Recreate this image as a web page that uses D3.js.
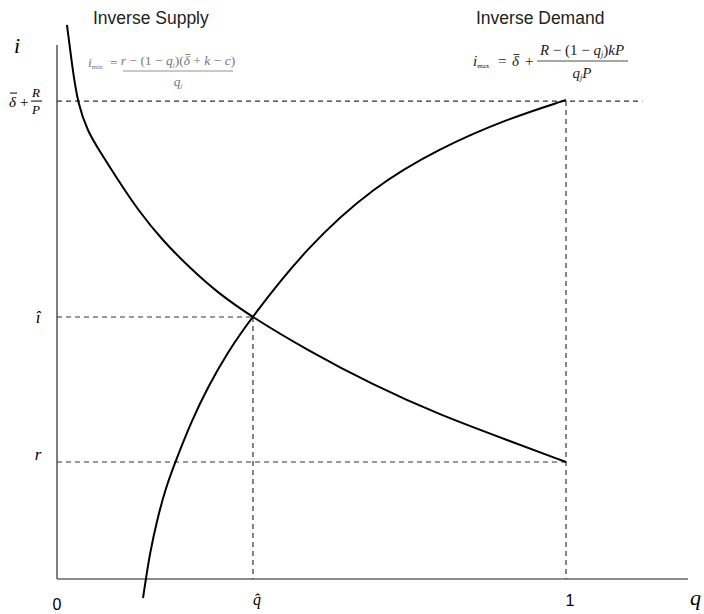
<!DOCTYPE html>
<html>
<head>
<meta charset="utf-8">
<script src="https://cdn.jsdelivr.net/npm/d3@7"></script>
<style>
  body { margin: 0; background: #fff; }
  .serif { font-family: "Liberation Serif", "Times New Roman", serif; }
  .sans { font-family: "Liberation Sans", Arial, sans-serif; }
</style>
</head>
<body>
<div id="chart"></div>
<script>
// Points: q (share) vs i (rate), arbitrary units
const supplyQ = [0.0196, 0.0295, 0.0413, 0.0609, 0.0825, 0.1198, 0.1591, 0.2063, 0.2652, 0.3163, 0.383, 0.4912, 0.6208, 0.7525, 0.8841, 1.000];
const supplyI = [1.0375, 0.9625, 0.8876, 0.8371, 0.8034, 0.7472, 0.6910, 0.6348, 0.5787, 0.5356, 0.4906, 0.4288, 0.3633, 0.3071, 0.2603, 0.2191];

const demandQ = [0.1690, 0.1749, 0.1827, 0.1965, 0.2141, 0.2338, 0.2652, 0.2967, 0.3340, 0.383, 0.4912, 0.6208, 0.7525, 0.8841, 1.000];
const demandI = [-0.0356, 0.0019, 0.0487, 0.1105, 0.1723, 0.2228, 0.2978, 0.3596, 0.4232, 0.4906, 0.6217, 0.7341, 0.8071, 0.8614, 0.8970];

// reference levels
const qHat = 0.385;
const qOne = 1.0;
const iHat = 0.4906;
const iR = 0.2191;
const iTop = 0.895;
const topLineEnd = 1.15;

const W = 704, H = 614;
const x = d3.scaleLinear().domain([0, 1]).range([57, 566]);
const y = d3.scaleLinear().domain([0, 1]).range([579, 45]);

const svg = d3.select("#chart").append("svg")
    .attr("width", W)
    .attr("height", H);

// axes (plain lines, no ticks)
svg.append("line")
    .attr("x1", x(0)).attr("x2", x(0))
    .attr("y1", y(0)).attr("y2", y(1))
    .attr("stroke", "#555").attr("stroke-width", 1.5);
svg.append("line")
    .attr("x1", x(0)).attr("x2", 688)
    .attr("y1", y(0)).attr("y2", y(0))
    .attr("stroke", "#666").attr("stroke-width", 1.5);

// dashed guides
const guides = [
    [0, iTop, topLineEnd, iTop],
    [0, iHat, qHat, iHat],
    [0, iR, qOne, iR],
    [qHat, iHat, qHat, 0],
    [qOne, iTop, qOne, 0]
];
svg.selectAll(".guide")
    .data(guides)
    .enter()
    .append("line")
    .attr("class", "guide")
    .attr("x1", d => x(d[0])).attr("y1", d => y(d[1]))
    .attr("x2", d => x(d[2])).attr("y2", d => y(d[3]))
    .attr("stroke", "#333")
    .attr("stroke-width", 1.2)
    .attr("stroke-dasharray", "5,4");

// curves - basis smooths out small reading errors
const line = d3.line()
    .x(d => x(d[0]))
    .y(d => y(d[1]))
    .curve(d3.curveBasis);

svg.append("path")
    .datum(d3.zip(supplyQ, supplyI))
    .attr("d", line)
    .attr("fill", "none")
    .attr("stroke", "#000")
    .attr("stroke-width", 2);

svg.append("path")
    .datum(d3.zip(demandQ, demandI))
    .attr("d", line)
    .attr("fill", "none")
    .attr("stroke", "#000")
    .attr("stroke-width", 2);

// titles
svg.append("text").attr("class", "sans")
    .attr("x", 93).attr("y", 24)
    .attr("font-size", 17.5).attr("fill", "#222")
    .text("Inverse Supply");
svg.append("text").attr("class", "sans")
    .attr("x", 476).attr("y", 24)
    .attr("font-size", 17.5).attr("fill", "#222")
    .text("Inverse Demand");

// axis symbols
svg.append("text").attr("class", "serif")
    .attr("x", 14).attr("y", 53)
    .attr("font-size", 22).attr("font-style", "italic")
    .text("i");
svg.append("text").attr("class", "serif")
    .attr("x", 690).attr("y", 605)
    .attr("font-size", 22).attr("font-style", "italic")
    .text("q");
svg.append("text").attr("class", "sans")
    .attr("x", x(0)).attr("y", 610)
    .attr("text-anchor", "middle")
    .attr("font-size", 16)
    .text("0");
svg.append("text").attr("class", "sans")
    .attr("x", x(qOne) + 4).attr("y", 606)
    .attr("text-anchor", "middle")
    .attr("font-size", 16)
    .text("1");
svg.append("text").attr("class", "serif")
    .attr("x", x(qHat) + 4).attr("y", 605)
    .attr("text-anchor", "middle")
    .attr("font-size", 16).attr("font-style", "italic")
    .text("q\u0302");

// y labels
svg.append("text").attr("class", "serif")
    .attr("x", 38).attr("y", y(iHat) + 6)
    .attr("text-anchor", "middle")
    .attr("font-size", 17).attr("font-style", "italic")
    .text("\u00ee");
svg.append("text").attr("class", "serif")
    .attr("x", 38).attr("y", y(iR) - 2)
    .attr("text-anchor", "middle")
    .attr("font-size", 17).attr("font-style", "italic")
    .text("r");

// delta-bar + R/P label
const topLab = svg.append("g").attr("class", "serif").attr("font-size", 15);
topLab.append("text").attr("x", 9).attr("y", y(iTop) + 6)
    .attr("font-style", "italic").text("δ");
topLab.append("line").attr("x1", 10).attr("x2", 17)
    .attr("y1", y(iTop) - 8).attr("y2", y(iTop) - 8)
    .attr("stroke", "#000").attr("stroke-width", 1);
topLab.append("text").attr("x", 20).attr("y", y(iTop) + 6).text("+");
topLab.append("text").attr("x", 36).attr("y", y(iTop) - 4)
    .attr("text-anchor", "middle").attr("font-style", "italic").attr("font-size", 13).text("R");
topLab.append("line").attr("x1", 31).attr("x2", 42)
    .attr("y1", y(iTop)).attr("y2", y(iTop))
    .attr("stroke", "#000").attr("stroke-width", 1);
topLab.append("text").attr("x", 36).attr("y", y(iTop) + 13)
    .attr("text-anchor", "middle").attr("font-style", "italic").attr("font-size", 13).text("P");

// bar over the delta glyph inside a text node
function barOverDelta(textSel, colour) {
    const node = textSel.node();
    const idx = node.textContent.indexOf("δ");
    const box = node.getExtentOfChar(idx);
    textSel.select(function() { return this.parentNode; })
        .append("line")
        .attr("x1", box.x + 1.5).attr("x2", box.x + box.width + 0.5)
        .attr("y1", box.y + 1.5).attr("y2", box.y + 1.5)
        .attr("stroke", colour).attr("stroke-width", 0.9);
}

// supply formula (grey)
const sf = svg.append("g").attr("class", "serif").attr("fill", "#777").attr("font-size", 13.5);
const sfi = sf.append("text").attr("x", 88).attr("y", 67).attr("font-style", "italic");
sfi.append("tspan").text("i");
sfi.append("tspan").attr("font-size", 7).attr("dy", 2).attr("font-style", "normal").text("min");
sf.append("text").attr("x", 110).attr("y", 67).text("=");
const sfn = sf.append("text").attr("x", 178).attr("y", 65)
    .attr("text-anchor", "middle").attr("font-style", "italic");
sfn.append("tspan").text("r");
sfn.append("tspan").attr("font-style", "normal").text(" − (1 − ");
sfn.append("tspan").text("q");
sfn.append("tspan").attr("font-size", 7).attr("dy", 2).text("j");
sfn.append("tspan").attr("dy", -2).attr("font-style", "normal").text(")(");
sfn.append("tspan").text("δ");
sfn.append("tspan").attr("font-style", "normal").text(" + ");
sfn.append("tspan").text("k");
sfn.append("tspan").attr("font-style", "normal").text(" − ");
sfn.append("tspan").text("c");
sfn.append("tspan").attr("font-style", "normal").text(")");
barOverDelta(sfn, "#777");
sf.append("line").attr("x1", 123).attr("x2", 233).attr("y1", 71).attr("y2", 71)
    .attr("stroke", "#777").attr("stroke-width", 0.8);
const sfd = sf.append("text").attr("x", 178).attr("y", 86)
    .attr("text-anchor", "middle").attr("font-style", "italic");
sfd.append("tspan").text("q");
sfd.append("tspan").attr("font-size", 7).attr("dy", 2).text("j");

// demand formula (dark)
const df = svg.append("g").attr("class", "serif").attr("fill", "#222").attr("font-size", 15);
const dfi = df.append("text").attr("x", 473).attr("y", 66).attr("font-style", "italic");
dfi.append("tspan").text("i");
dfi.append("tspan").attr("font-size", 7).attr("dy", 2).attr("font-style", "normal").text("max");
df.append("text").attr("x", 498).attr("y", 66).text("=");
const dfd0 = df.append("text").attr("x", 512).attr("y", 66).attr("font-style", "italic").text("δ");
barOverDelta(dfd0, "#222");
df.append("text").attr("x", 525).attr("y", 66).text("+");
const dfn = df.append("text").attr("x", 582).attr("y", 55)
    .attr("text-anchor", "middle").attr("font-style", "italic");
dfn.append("tspan").text("R");
dfn.append("tspan").attr("font-style", "normal").text(" − (1 − ");
dfn.append("tspan").text("q");
dfn.append("tspan").attr("font-size", 8).attr("dy", 2).text("j");
dfn.append("tspan").attr("dy", -2).attr("font-style", "normal").text(")");
dfn.append("tspan").text("kP");
df.append("line").attr("x1", 537).attr("x2", 628).attr("y1", 61).attr("y2", 61)
    .attr("stroke", "#222").attr("stroke-width", 0.8);
const dfd = df.append("text").attr("x", 582).attr("y", 78)
    .attr("text-anchor", "middle").attr("font-style", "italic");
dfd.append("tspan").text("q");
dfd.append("tspan").attr("font-size", 8).attr("dy", 2).text("j");
dfd.append("tspan").attr("dy", -2).text("P");
</script>
</body>
</html>
